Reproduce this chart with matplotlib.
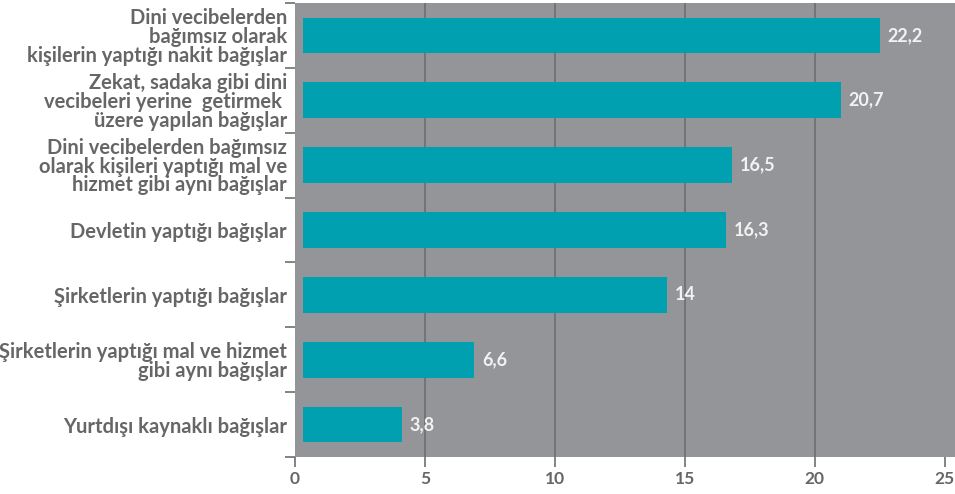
import numpy as np
import matplotlib.pyplot as plt

# categories (top to bottom) and values in percent
categories = [
    "Dini vecibelerden\nbağımsız olarak\nkişilerin yaptığı nakit bağışlar",
    "Zekat, sadaka gibi dini\nvecibeleri yerine  getirmek \nüzere yapılan bağışlar",
    "Dini vecibelerden bağımsız\nolarak kişileri yaptığı mal ve\nhizmet gibi aynı bağışlar",
    "Devletin yaptığı bağışlar",
    "Şirketlerin yaptığı bağışlar",
    "Şirketlerin yaptığı mal ve hizmet\ngibi aynı bağışlar",
    "Yurtdışı kaynaklı bağışlar",
]
values = [22.2, 20.7, 16.5, 16.3, 14, 6.6, 3.8]
xticks = [0, 5, 10, 15, 20, 25]

bg = '#939598'
teal = '#00a0b0'
dark = '#6d6e71'
txt = '#666666'

plt.rcParams['font.family'] = ['Lato', 'DejaVu Sans']

fig = plt.figure(figsize=(9.55, 4.94), dpi=100)
ax = fig.add_axes([0.309, 0.075, 0.691, 0.919])
ax.set_facecolor(bg)

y = np.arange(len(values))
bar_offset = 0.3  # bars start slightly right of the axis in the original
ax.barh(y, values, left=bar_offset, height=0.55, color=teal, zorder=3)

for yi, v in zip(y, values):
    s = ('%g' % v).replace('.', ',')
    ax.text(v + bar_offset + 0.3, yi, s, va='center', ha='left',
            color='#f2f2f2', fontsize=13, fontweight='bold', zorder=4)

ax.set_xlim(0, 25.4)
ax.set_ylim(len(values) - 0.5, -0.5)

ax.set_xticks(xticks)
ax.set_xticklabels([str(t) for t in xticks], fontsize=12.5, fontweight='bold', color=txt)
for t in xticks[1:-1]:
    ax.axvline(t, color=dark, lw=1.2, zorder=1)
ax.tick_params(axis='x', length=7, width=1.2, color=dark, pad=3)

ax.set_yticks(y)
ax.set_yticklabels(categories, fontsize=14.5, fontweight='bold', color=txt,
                   linespacing=0.93)
ax.tick_params(axis='y', which='major', length=0, pad=6)
ax.set_yticks(np.arange(len(values) + 1) - 0.5, minor=True)
ax.tick_params(axis='y', which='minor', length=7, width=1.2, color=dark)

for s in ax.spines.values():
    s.set_visible(False)

fig.savefig('out.png', dpi=100)
